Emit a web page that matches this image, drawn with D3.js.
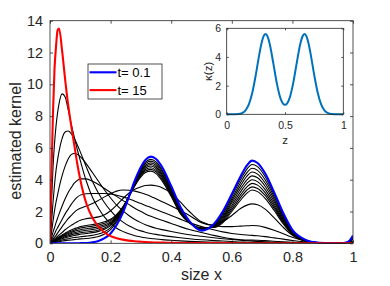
<!DOCTYPE html>
<html><head><meta charset="utf-8">
<script src="https://cdn.jsdelivr.net/npm/d3@7"></script>
<style>
body{margin:0;background:#fff;}
svg{display:block;font-family:"Liberation Sans",Arial,Helvetica,sans-serif;}
</style></head><body>
<svg id="chart" width="390" height="286"></svg>
<script>
// shared size grid for the main panel
const xGrid = [0,0.005,0.01,0.015,0.02,0.025,0.03, 0.04,0.05,0.06,0.07,0.08,0.09,0.1, 0.12,0.14,0.16,0.18,0.2, 0.22,0.24,0.26,0.28,0.3, 0.315,0.333,0.35,0.37, 0.4,0.43,0.46,0.5, 0.54,0.57,0.6,0.63,0.65, 0.667,0.685,0.71,0.74,0.77, 0.8,0.84,0.88,0.92,0.96, 0.98,0.99,1.0];

const blueT01 = [0,0,0,0,0,0,0, 0,0,0,0,0,0,0.01, 0.02,0.06,0.15,0.32,0.62, 1.15,1.9,2.9,3.95,4.8, 5.25,5.45,5.3,4.8, 3.6,2.3,1.4,0.8, 1.2,2.0,3.1,4.25,4.9, 5.2,5.05,4.4,3.2,1.9, 0.85,0.25,0.05,0.01,0, 0.06,0.2,0.48];
const redT15 = [0,4.5,8.3,11.0,12.4,13.4,13.5, 12.1,10.3,8.7,7.4,6.2,5.0,4.0, 2.5,1.6,1.05,0.68,0.45, 0.32,0.23,0.17,0.13,0.1, 0.08,0.06,0.05,0.04, 0.03,0.02,0.02,0.01, 0.01,0.01,0.01,0,0, 0,0,0,0,0, 0,0,0,0,0, 0,0,0];

const black1 = [0,0.02,0.03,0.05,0.07,0.085,0.10, 0.14,0.17,0.19,0.21,0.23,0.25,0.28, 0.30,0.35,0.43,0.59,0.86, 1.34,2.02,2.94,3.91,4.69, 5.10,5.28,5.12,4.63, 3.47,2.22,1.38,0.84, 1.17,1.91,2.96,4.05,4.67, 4.96,4.82,4.20,3.05,1.81, 0.81,0.24,0.05,0.01,0, 0.06,0.19,0.46];
const black2 = [0,0.03,0.05,0.08,0.11,0.135,0.16, 0.21,0.25,0.29,0.33,0.36,0.38,0.41, 0.45,0.50,0.58,0.73,0.98, 1.43,2.07,2.95,3.87,4.62, 5.01,5.17,5.01,4.53, 3.39,2.17,1.36,0.86, 1.14,1.82,2.81,3.86,4.45, 4.72,4.59,4.0,2.91,1.73, 0.77,0.23,0.05,0.01,0, 0.05,0.18,0.44];
const black3 = [0,0.04,0.07,0.11,0.15,0.185,0.22, 0.29,0.35,0.40,0.45,0.49,0.53,0.57, 0.62,0.67,0.75,0.88,1.11, 1.54,2.14,2.96,3.84,4.55, 4.91,5.06,4.90,4.42, 3.31,2.11,1.35,0.88, 1.12,1.72,2.67,3.66,4.22, 4.48,4.35,3.79,2.76,1.64, 0.73,0.22,0.04,0.01,0, 0.05,0.17,0.41];
const black4 = [0,0.04,0.09,0.13,0.17,0.215,0.26, 0.33,0.41,0.47,0.53,0.58,0.62,0.66, 0.71,0.76,0.84,0.97,1.19, 1.59,2.17,2.95,3.80,4.47, 4.82,4.96,4.80,4.32, 3.24,2.07,1.34,0.90, 1.09,1.63,2.53,3.46,3.99, 4.24,4.12,3.59,2.61,1.55, 0.69,0.20,0.04,0.01,0, 0.05,0.16,0.39];
const black5 = [0,0.05,0.10,0.15,0.20,0.25,0.30, 0.39,0.47,0.54,0.61,0.66,0.71,0.76, 0.82,0.87,0.95,1.07,1.28, 1.65,2.20,2.95,3.76,4.40, 4.74,4.86,4.70,4.23, 3.17,2.02,1.32,0.92, 1.06,1.54,2.38,3.27,3.77, 4.0,3.88,3.38,2.46,1.46, 0.65,0.19,0.04,0.01,0, 0.05,0.15,0.37];
const black6 = [0,0.06,0.11,0.17,0.22,0.275,0.33, 0.43,0.52,0.61,0.68,0.75,0.80,0.85, 0.92,0.97,1.05,1.16,1.35, 1.71,2.22,2.94,3.71,4.32, 4.64,4.75,4.59,4.13, 3.09,1.97,1.31,0.94, 1.04,1.45,2.25,3.08,3.55, 3.77,3.66,3.19,2.32,1.38, 0.62,0.18,0.04,0.01,0, 0.04,0.15,0.35];
const black7 = [0,0.06,0.12,0.19,0.25,0.31,0.37, 0.48,0.59,0.68,0.76,0.83,0.90,0.96, 1.03,1.08,1.15,1.26,1.44, 1.77,2.25,2.93,3.66,4.25, 4.55,4.65,4.49,4.03, 3.02,1.92,1.30,0.96, 1.01,1.37,2.12,2.90,3.35, 3.55,3.45,3.01,2.19,1.30, 0.58,0.17,0.03,0.01,0, 0.04,0.14,0.33];
const black8 = [0,0.07,0.14,0.20,0.27,0.34,0.41, 0.53,0.64,0.75,0.84,0.92,0.98,1.05, 1.12,1.18,1.25,1.35,1.51, 1.82,2.28,2.92,3.61,4.17, 4.45,4.54,4.38,3.93, 2.94,1.87,1.28,0.98, 0.99,1.29,2.0,2.74,3.16, 3.35,3.25,2.83,2.06,1.22, 0.55,0.16,0.03,0.01,0, 0.04,0.13,0.31];
const black9 = [0,0.09,0.18,0.27,0.35,0.44,0.52, 0.68,0.85,1.0,1.13,1.25,1.36,1.45, 1.55,1.6,1.66,1.8,2.05, 2.4,2.8,3.15,3.4,3.55, 3.64,3.66,3.62,3.5, 3.15,2.6,2.0,1.35, 1.15,1.35,1.75,2.2,2.4, 2.48,2.42,2.15,1.6,1.0, 0.5,0.15,0.03,0,0, 0.05,0.15,0.35];
const black10 = [0,0.12,0.25,0.38,0.5,0.64,0.78, 1.05,1.3,1.55,1.75,1.95,2.1,2.2, 2.35,2.5,2.7,2.92,3.12, 3.28,3.35,3.34,3.28,3.18, 3.08,2.95,2.8,2.62, 2.35,2.05,1.75,1.3, 1.1,1.05,1.05,1.08,1.1, 1.12,1.1,1.0,0.82,0.6, 0.38,0.17,0.06,0.02,0.01, 0.05,0.12,0.25];
const black11 = [0,0.2,0.4,0.6,0.8,0.98,1.15, 1.5,1.85,2.15,2.45,2.7,2.9,3.03, 3.12,3.13,3.13,3.13,3.1, 3.02,2.92,2.8,2.65,2.5, 2.38,2.25,2.12,1.97, 1.75,1.52,1.3,1.05, 0.85,0.72,0.62,0.55,0.52, 0.5,0.47,0.42,0.34,0.26, 0.18,0.1,0.05,0.02,0.01, 0.03,0.06,0.12];
const black12 = [0,0.35,0.7,1.0,1.3,1.58,1.85, 2.35,2.8,3.2,3.5,3.78,3.95,4.05, 4.05,3.9,3.7,3.45,3.2, 2.95,2.7,2.45,2.2,2.0, 1.85,1.7,1.58,1.45, 1.25,1.05,0.87,0.68, 0.5,0.38,0.28,0.22,0.2, 0.2,0.19,0.17,0.13,0.09, 0.06,0.04,0.02,0.01,0.01, 0.01,0.02,0.05];
const black13 = [0,0.7,1.4,2.05,2.6,3.05,3.5, 4.25,4.85,5.3,5.58,5.65,5.6,5.45, 5.0,4.45,3.9,3.35,2.85, 2.4,2.05,1.75,1.5,1.3, 1.17,1.05,0.95,0.86, 0.74,0.63,0.54,0.44, 0.35,0.29,0.24,0.19,0.16, 0.14,0.12,0.1,0.07,0.05, 0.04,0.02,0.01,0,0, 0,0,0];
const black14 = [0,1.3,2.6,3.7,4.6,5.25,5.8, 6.6,7.0,7.06,6.9,6.6,6.2,5.75, 4.8,3.9,3.15,2.55,2.05, 1.65,1.35,1.1,0.92,0.78, 0.7,0.62,0.56,0.5, 0.42,0.35,0.29,0.22, 0.17,0.14,0.11,0.08,0.07, 0.06,0.05,0.04,0.03,0.02, 0.01,0,0,0,0, 0,0,0];
const black15 = [0,2.6,4.8,6.3,7.4,8.2,8.8, 9.4,9.2,8.4,7.5,6.7,5.9,5.2, 3.9,2.9,2.2,1.65,1.25, 0.95,0.75,0.6,0.48,0.4, 0.35,0.3,0.27,0.23, 0.19,0.15,0.12,0.09, 0.07,0.05,0.04,0.03,0.02, 0.02,0.01,0.01,0,0, 0,0,0,0,0, 0,0,0];
const blackCurves = [black1,black2,black3,black4,black5,black6,black7,black8,black9,black10,black11,black12,black13,black14,black15];

const xTicks = [0,0.2,0.4,0.6,0.8,1];
const xTickLabels = ["0","0.2","0.4","0.6","0.8","1"];
const yTicks = [0,2,4,6,8,10,12,14];
const legendLabels = ["t= 0.1","t= 15"];

// inset: true kernel kappa(z)
const insetZ = [0,0.05,0.1,0.13,0.16,0.19,0.22,0.25,0.28,0.3,0.315,0.333,0.35,0.37,0.4,0.43,0.46,0.5,0.54,0.57,0.6,0.63,0.65,0.667,0.685,0.7,0.72,0.75,0.78,0.81,0.84,0.87,0.9,0.95,1];
const insetKappa = [0,0.002,0.022,0.084,0.265,0.695,1.52,2.77,4.2,5.01,5.42,5.6,5.44,4.87,3.55,2.16,1.15,0.66,1.15,2.16,3.55,4.87,5.43,5.6,5.42,5.01,4.2,2.77,1.52,0.695,0.265,0.084,0.022,0.002,0];
const insetXTicks = [0,0.5,1];
const insetXTickLabels = ["0","0.5","1"];
const insetYTicks = [0,2,4,6];

const AX = "#262626";
const svg = d3.select("#chart");
svg.append("rect").attr("width",390).attr("height",286).attr("fill","#fff");

const L = 50, R = 353, T = 20.7, B = 243.3;
const x = d3.scaleLinear().domain([0,1]).range([L,R]);
const y = d3.scaleLinear().domain([0,14]).range([B,T]);

svg.append("defs").append("clipPath").attr("id","clip")
  .append("rect").attr("x",L).attr("y",T).attr("width",R-L).attr("height",B-T);

const line = d3.line().x(d=>x(d[0])).y(d=>y(d[1])).curve(d3.curveMonotoneX);
const plot = svg.append("g").attr("clip-path","url(#clip)");
const toPts = vals => xGrid.map((v,i)=>[v,vals[i]]);

blackCurves.forEach(c=>{
  plot.append("path").datum(toPts(c)).attr("d",line)
    .attr("fill","none").attr("stroke","#000").attr("stroke-width",1.1);
});
plot.append("path").datum(toPts(blueT01)).attr("d",line)
  .attr("fill","none").attr("stroke","#0000ff").attr("stroke-width",2.1);
plot.append("path").datum(toPts(redT15)).attr("d",line)
  .attr("fill","none").attr("stroke","#ff0000").attr("stroke-width",2.1);

function styleAxis(g, fs){
  g.select(".domain").remove();
  g.selectAll("line").attr("stroke",AX).attr("stroke-width",0.8);
  g.selectAll("text").attr("fill",AX).style("font-size",fs+"px");
}
// main axes
svg.append("g").attr("transform",`translate(0,${B})`)
  .call(d3.axisBottom(x).tickValues(xTicks).tickFormat((d,i)=>xTickLabels[i]).tickSizeInner(-3).tickSizeOuter(0).tickPadding(8))
  .call(g=>styleAxis(g,14.4));
svg.append("g").attr("transform",`translate(${L},0)`)
  .call(d3.axisLeft(y).tickValues(yTicks).tickFormat(d3.format("d")).tickSizeInner(-3).tickSizeOuter(0).tickPadding(7))
  .call(g=>styleAxis(g,14.4));
svg.append("g").attr("transform",`translate(0,${T})`)
  .call(d3.axisTop(x).tickValues(xTicks).tickFormat("").tickSizeInner(-3).tickSizeOuter(0))
  .call(g=>styleAxis(g,14.4));
svg.append("g").attr("transform",`translate(${R},0)`)
  .call(d3.axisRight(y).tickValues(yTicks).tickFormat("").tickSizeInner(-3).tickSizeOuter(0))
  .call(g=>styleAxis(g,14.4));
svg.append("rect").attr("x",L).attr("y",T).attr("width",R-L).attr("height",B-T)
  .attr("fill","none").attr("stroke",AX).attr("stroke-width",0.8);

svg.append("text").attr("x",(L+R)/2).attr("y",280).attr("text-anchor","middle")
  .attr("fill",AX).style("font-size","16px").text("size x");
svg.append("text").attr("transform","translate(20.5,141) rotate(-90)").attr("text-anchor","middle")
  .attr("fill",AX).style("font-size","16px").text("estimated kernel");

// legend
const lg = svg.append("g");
lg.append("rect").attr("x",88).attr("y",64).attr("width",74).attr("height",35)
  .attr("fill","#fff").attr("stroke",AX).attr("stroke-width",0.8);
const legColors = ["#0000ff","#ff0000"];
legendLabels.forEach((t,i)=>{
  const yy = 72.3 + i*17.8;
  lg.append("line").attr("x1",89.5).attr("x2",116.5).attr("y1",yy).attr("y2",yy)
    .attr("stroke",legColors[i]).attr("stroke-width",2.1);
  lg.append("text").attr("x",117.5).attr("y",yy+4.7).attr("fill","#000")
    .style("font-size","13px").text(t);
});

// inset
const iL = 226.7, iR = 343.3, iT = 28.3, iB = 114.3;
const xi = d3.scaleLinear().domain([0,1]).range([iL,iR]);
const yi = d3.scaleLinear().domain([0,6]).range([iB,iT]);
const ins = svg.append("g");
ins.append("rect").attr("x",iL).attr("y",iT).attr("width",iR-iL).attr("height",iB-iT).attr("fill","#fff");
const iline = d3.line().x(d=>xi(d[0])).y(d=>yi(d[1])).curve(d3.curveMonotoneX);
ins.append("path").datum(insetZ.map((z,i)=>[z,insetKappa[i]])).attr("d",iline)
  .attr("fill","none").attr("stroke","#0072BD").attr("stroke-width",2);
ins.append("g").attr("transform",`translate(0,${iB})`)
  .call(d3.axisBottom(xi).tickValues(insetXTicks).tickFormat((d,i)=>insetXTickLabels[i]).tickSizeInner(-2).tickSizeOuter(0).tickPadding(7))
  .call(g=>styleAxis(g,10.5));
ins.append("g").attr("transform",`translate(${iL},0)`)
  .call(d3.axisLeft(yi).tickValues(insetYTicks).tickFormat(d3.format("d")).tickSizeInner(-2).tickSizeOuter(0).tickPadding(5.5))
  .call(g=>styleAxis(g,10.5));
ins.append("g").attr("transform",`translate(0,${iT})`)
  .call(d3.axisTop(xi).tickValues(insetXTicks).tickFormat("").tickSizeInner(-2).tickSizeOuter(0))
  .call(g=>styleAxis(g,10.5));
ins.append("g").attr("transform",`translate(${iR},0)`)
  .call(d3.axisRight(yi).tickValues(insetYTicks).tickFormat("").tickSizeInner(-2).tickSizeOuter(0))
  .call(g=>styleAxis(g,10.5));
ins.append("rect").attr("x",iL).attr("y",iT).attr("width",iR-iL).attr("height",iB-iT)
  .attr("fill","none").attr("stroke",AX).attr("stroke-width",0.8);
ins.append("text").attr("x",(iL+iR)/2).attr("y",144).attr("text-anchor","middle")
  .attr("fill",AX).style("font-size","11.5px").text("z");
ins.append("text").attr("transform",`translate(212,${(iT+iB)/2}) rotate(-90)`).attr("text-anchor","middle")
  .attr("fill",AX).style("font-size","11.5px").text("κ(z)");
</script>
</body></html>
